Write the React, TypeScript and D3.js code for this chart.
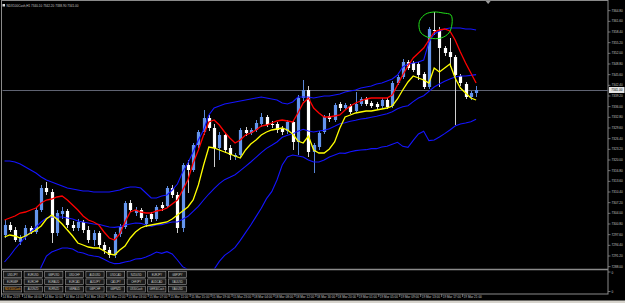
import React from "react";
import * as d3 from "d3";

const symbolName = "NDX100Cash,H1";

const openP = [
  7297.5, 7300.5, 7299.0, 7295.4, 7296.9, 7299.6, 7298.4, 7305.0, 7311.6, 7310.4,
  7298.1, 7303.8, 7304.7, 7300.5, 7299.6, 7301.4, 7299.0, 7296.0, 7298.1, 7294.5,
  7293.0, 7291.5, 7297.8, 7299.9, 7307.1, 7304.1, 7305.0, 7300.8, 7303.8, 7302.3,
  7306.5, 7306.2, 7311.6, 7309.5, 7299.6, 7318.5, 7317.0, 7324.5, 7328.4, 7332.6,
  7329.6, 7323.6, 7327.5, 7323.6, 7320.9, 7321.5, 7329.0, 7328.1, 7329.0, 7330.8,
  7332.9, 7330.8, 7330.8, 7329.3, 7328.7, 7331.4, 7325.4, 7338.6, 7341.0, 7322.4,
  7323.9, 7328.4, 7333.2, 7332.0, 7336.8, 7335.6, 7336.2, 7334.7, 7336.8, 7338.3,
  7337.1, 7336.8, 7336.2, 7338.0, 7336.2, 7343.1, 7344.9, 7349.4, 7349.1, 7348.8,
  7345.8, 7341.9, 7359.0, 7358.7, 7353.6, 7352.4, 7350.9, 7345.2, 7342.8, 7338.9,
  7340.1,
];
const highP = [
  7302.0, 7301.4, 7299.9, 7297.5, 7300.5, 7300.2, 7305.9, 7312.5, 7313.4, 7311.3,
  7305.0, 7305.9, 7305.3, 7301.7, 7302.3, 7302.0, 7300.2, 7299.0, 7298.7, 7295.4,
  7293.9, 7298.4, 7300.8, 7307.7, 7308.0, 7305.9, 7305.6, 7303.5, 7304.4, 7306.5,
  7307.4, 7312.2, 7312.5, 7310.4, 7319.1, 7320.0, 7325.1, 7329.0, 7335.0, 7333.5,
  7330.8, 7328.4, 7328.1, 7324.5, 7322.1, 7329.6, 7329.9, 7329.6, 7332.0, 7334.1,
  7333.5, 7331.7, 7331.4, 7330.2, 7332.0, 7332.0, 7339.5, 7344.0, 7342.2, 7325.1,
  7328.7, 7333.5, 7334.1, 7337.1, 7337.4, 7337.1, 7336.8, 7340.4, 7338.9, 7338.9,
  7337.7, 7337.4, 7338.6, 7338.6, 7343.7, 7345.5, 7350.3, 7350.0, 7349.7, 7349.4,
  7346.4, 7359.9, 7364.4, 7359.9, 7354.2, 7356.6, 7351.5, 7345.8, 7343.4, 7340.7,
  7342.2,
];
const lowP = [
  7296.6, 7298.4, 7295.4, 7294.5, 7296.0, 7297.8, 7297.8, 7304.4, 7309.5, 7295.1,
  7297.2, 7302.3, 7299.6, 7298.7, 7298.7, 7298.1, 7295.1, 7294.2, 7293.6, 7291.8,
  7290.6, 7290.6, 7296.9, 7299.3, 7304.4, 7303.2, 7302.0, 7299.9, 7301.4, 7301.7,
  7304.7, 7305.6, 7308.6, 7298.1, 7298.4, 7310.1, 7316.4, 7323.6, 7327.5, 7328.7,
  7317.9, 7320.0, 7322.1, 7320.0, 7320.0, 7320.6, 7327.2, 7327.5, 7328.4, 7329.9,
  7329.9, 7329.6, 7328.1, 7327.5, 7327.8, 7323.0, 7321.5, 7337.7, 7320.9, 7316.1,
  7323.0, 7327.8, 7331.4, 7331.4, 7334.7, 7335.0, 7333.8, 7334.1, 7336.2, 7336.2,
  7335.6, 7335.3, 7335.6, 7335.3, 7335.6, 7342.5, 7344.3, 7347.0, 7346.4, 7344.0,
  7341.3, 7341.3, 7357.5, 7341.9, 7351.2, 7347.9, 7330.5, 7342.2, 7338.3, 7338.0,
  7338.9,
];
const closeP = [
  7300.5, 7299.0, 7296.0, 7296.9, 7299.6, 7298.4, 7305.0, 7311.6, 7310.4, 7298.1,
  7304.1, 7304.7, 7300.5, 7299.6, 7301.4, 7299.0, 7296.0, 7298.1, 7294.5, 7293.0,
  7291.5, 7297.8, 7299.9, 7307.1, 7305.0, 7305.0, 7302.6, 7302.6, 7302.3, 7305.9,
  7305.6, 7311.6, 7309.5, 7299.6, 7318.5, 7317.0, 7324.5, 7328.4, 7332.6, 7329.6,
  7323.6, 7327.5, 7323.0, 7321.5, 7321.5, 7329.0, 7328.1, 7329.0, 7331.1, 7332.9,
  7330.5, 7330.5, 7329.0, 7328.4, 7331.4, 7325.4, 7338.6, 7341.0, 7322.4, 7324.5,
  7328.1, 7332.9, 7332.3, 7336.5, 7335.6, 7336.5, 7334.4, 7336.8, 7338.3, 7336.8,
  7336.2, 7335.9, 7338.0, 7335.9, 7343.1, 7344.9, 7349.4, 7347.6, 7347.0, 7345.5,
  7341.9, 7359.3, 7358.7, 7353.6, 7352.1, 7350.9, 7345.5, 7343.1, 7338.9, 7340.1,
  7341.0,
];

const bbUpper = [
  7319.7, 7319.7, 7319.4, 7318.8, 7317.9, 7317.0, 7316.1, 7314.9, 7314.0, 7313.4,
  7312.8, 7312.2, 7311.6, 7311.3, 7311.0, 7310.7, 7310.7, 7310.4, 7310.4, 7310.4,
  7310.4, 7310.7, 7311.0, 7311.6, 7311.9, 7311.9, 7311.6, 7310.1, 7308.6, 7308.6,
  7309.2, 7309.5, 7311.0, 7312.8, 7316.4, 7319.1, 7322.4, 7326.0, 7329.0, 7333.5,
  7335.6, 7336.2, 7336.8, 7337.1, 7337.4, 7337.7, 7338.0, 7338.3, 7338.6, 7338.9,
  7338.6, 7338.3, 7338.0, 7337.1, 7336.8, 7337.4, 7338.9, 7338.9, 7338.9, 7338.6,
  7338.9, 7339.2, 7339.2, 7339.5, 7339.8, 7340.4, 7340.7, 7341.0, 7341.6, 7341.9,
  7342.2, 7342.8, 7343.1, 7343.7, 7344.3, 7345.5, 7347.9, 7348.8, 7349.1, 7349.4,
  7350.0, 7355.4, 7357.8, 7358.7, 7359.3, 7359.6, 7359.6, 7359.6, 7359.3, 7359.3,
  7359.0,
];
const bbMiddle = [
  7289.4, 7291.2, 7293.3, 7295.1, 7296.9, 7298.4, 7299.9, 7301.4, 7302.6, 7302.9,
  7302.9, 7302.9, 7302.6, 7302.3, 7301.7, 7301.4, 7301.1, 7300.8, 7300.7, 7300.3,
  7299.9, 7299.8, 7300.0, 7300.5, 7300.8, 7301.1, 7301.0, 7300.5, 7300.1, 7300.5,
  7300.6, 7301.0, 7301.4, 7301.4, 7302.2, 7303.1, 7304.6, 7306.1, 7308.0, 7309.8,
  7311.4, 7312.9, 7314.1, 7314.8, 7315.6, 7316.8, 7318.1, 7319.4, 7320.8, 7322.2,
  7323.5, 7324.4, 7325.4, 7326.8, 7327.4, 7327.9, 7328.6, 7329.2, 7328.7, 7328.4,
  7328.7, 7328.9, 7329.4, 7330.1, 7330.9, 7331.2, 7331.6, 7331.9, 7332.3, 7332.5,
  7332.8, 7333.1, 7333.5, 7333.9, 7334.5, 7335.4, 7336.0, 7336.3, 7337.5, 7338.6,
  7339.3, 7340.6, 7341.9, 7342.8, 7343.6, 7344.3, 7344.9, 7345.2, 7345.2, 7345.4,
  7345.6,
];
const bbLower = [
  7259.1, 7262.7, 7267.2, 7271.4, 7275.9, 7279.8, 7283.7, 7287.9, 7291.2, 7292.4,
  7293.0, 7293.6, 7293.6, 7293.3, 7292.4, 7292.1, 7291.5, 7291.2, 7291.0, 7290.2,
  7289.4, 7288.9, 7289.0, 7289.4, 7289.7, 7290.3, 7290.4, 7290.9, 7291.6, 7292.4,
  7292.0, 7292.5, 7291.8, 7290.0, 7288.0, 7287.1, 7286.8, 7286.2, 7287.0, 7286.1,
  7287.2, 7289.6, 7291.4, 7292.5, 7293.8, 7295.9, 7298.2, 7300.5, 7303.0, 7305.5,
  7308.4, 7310.5, 7314.0, 7318.5, 7320.9, 7321.5, 7321.2, 7320.9, 7320.0, 7319.4,
  7319.4, 7320.0, 7320.9, 7321.5, 7322.1, 7322.0, 7322.5, 7322.8, 7323.0, 7323.1,
  7323.4, 7323.4, 7323.9, 7324.1, 7324.7, 7325.3, 7324.1, 7323.8, 7325.9, 7327.8,
  7328.6, 7325.8, 7326.0, 7326.9, 7327.9, 7329.0, 7330.2, 7330.8, 7331.1, 7331.5,
  7332.2,
];
const redLine = [
  7302.0, 7302.6, 7303.2, 7304.1, 7304.4, 7305.0, 7305.6, 7307.1, 7308.0, 7308.3,
  7308.9, 7309.2, 7308.0, 7306.5, 7305.0, 7303.2, 7302.0, 7301.4, 7300.5, 7298.4,
  7296.6, 7296.0, 7297.8, 7301.4, 7304.4, 7305.0, 7304.4, 7304.1, 7304.1, 7304.7,
  7305.0, 7305.6, 7306.8, 7308.0, 7311.0, 7314.0, 7319.1, 7323.0, 7327.5, 7331.4,
  7332.0, 7330.5, 7328.4, 7326.6, 7325.1, 7326.0, 7327.5, 7328.1, 7329.0, 7330.2,
  7330.5, 7331.1, 7331.7, 7332.0, 7331.7, 7331.4, 7334.1, 7337.1, 7338.6, 7335.6,
  7334.1, 7332.9, 7332.9, 7333.2, 7333.5, 7335.0, 7336.2, 7337.1, 7337.7, 7338.3,
  7338.6, 7338.6, 7338.6, 7338.6, 7339.5, 7342.5, 7345.5, 7348.2, 7350.6, 7352.1,
  7353.6, 7356.0, 7358.4, 7359.0, 7359.3, 7358.7, 7356.0, 7352.4, 7349.1, 7346.1,
  7343.1,
];
const yellowLine = [
  7296.9, 7297.5, 7297.2, 7296.6, 7297.2, 7298.1, 7299.0, 7300.2, 7302.3, 7303.5,
  7302.3, 7300.8, 7299.0, 7297.2, 7295.1, 7294.5, 7293.9, 7293.6, 7293.6, 7292.7,
  7291.8, 7291.5, 7293.0, 7294.2, 7296.6, 7298.4, 7299.6, 7300.2, 7300.5, 7300.8,
  7301.1, 7301.4, 7302.3, 7303.5, 7304.7, 7305.9, 7308.0, 7312.5, 7318.5, 7323.9,
  7323.6, 7323.0, 7322.4, 7321.8, 7321.2, 7320.6, 7323.0, 7324.8, 7326.0, 7327.5,
  7328.4, 7329.0, 7329.3, 7329.6, 7329.0, 7327.8, 7325.7, 7325.1, 7327.2, 7323.0,
  7322.1, 7322.1, 7323.3, 7325.4, 7329.6, 7332.9, 7333.5, 7334.1, 7334.4, 7334.7,
  7334.7, 7335.0, 7335.3, 7335.6, 7336.2, 7338.3, 7341.0, 7343.4, 7345.2, 7344.6,
  7344.0, 7343.1, 7347.6, 7346.4, 7347.6, 7348.8, 7344.6, 7341.6, 7340.1, 7338.6,
  7338.0,
];

const priceTicks = [
  7288.0, 7291.2, 7294.4, 7297.6, 7300.8, 7304.0, 7307.2, 7310.4, 7313.6, 7316.8,
  7320.0, 7323.2, 7326.4, 7329.6, 7332.8, 7336.0, 7339.2, 7342.4, 7345.6, 7348.8,
  7352.0, 7355.2, 7358.4, 7361.6, 7364.8,
];
const timeTickBars = [0, 4, 8, 12, 16, 20, 24, 28, 32, 36, 40, 44, 48, 52, 56, 60, 64, 68, 72, 76, 80, 84, 88];
const timeTickLabels = [
  "14 Mar 2019", "14 Mar 06:00", "14 Mar 10:00", "14 Mar 14:00", "14 Mar 18:00", "14 Mar 22:00",
  "15 Mar 03:00", "15 Mar 07:00", "15 Mar 11:00", "15 Mar 15:00", "15 Mar 19:00", "15 Mar 23:00",
  "18 Mar 04:00", "18 Mar 08:00", "18 Mar 12:00", "18 Mar 16:00", "18 Mar 20:00",
  "19 Mar 01:00", "19 Mar 05:00", "19 Mar 09:00", "19 Mar 13:00", "19 Mar 17:00", "19 Mar 21:00",
];

const buttonRow1 = ["USDJPY", "EURUSD", "GBPUSD", "USDCHF", "AUDUSD", "USDCAD", "NZDUSD", "EURJPY", "GBPJPY"];
const buttonRow2 = ["EURGBP", "EURCHF", "EURAUD", "EURCAD", "AUDJPY", "CADJPY", "CHFJPY", "AUDCAD", "XAUUSD"];
const buttonRow3 = ["NDX100Cash", "AUDNZD", "EURNZD", "GBPAUD", "GBPCHF", "GBPNZD", "US30Cash", "GER30Cash", "XAGUSD"];

// hand-drawn annotation, in (bar index, price)
const markerCircle: [number, number][] = [
  [79.3, 7362.0], [80.4, 7363.8], [82.0, 7364.4], [83.7, 7364.1], [85.2, 7363.5],
  [85.4, 7360.8], [84.8, 7358.1], [83.3, 7356.6], [81.2, 7356.6], [79.5, 7358.1], [79.1, 7360.2],
];
const shiftMarkerBar = 92.3;

const BULL = "#6495ED";
const BEAR = "#FFFFFF";
const AXIS_TXT = "#c4c4c4";
const FRAME = "#8a8a8a";

export default function App() {
  const n = openP.length;
  const x = d3.scaleLinear().domain([0, n - 1]).range([4.5, 476.1]);
  const y = d3.scaleLinear().domain([7287.6, 7367.4]).range([268, 2]);

  const linePath = (arr: number[]) =>
    d3.line<number>().x((_, i) => x(i)).y((d) => y(d))(arr) || "";
  const circlePath =
    d3.line<[number, number]>().x((d) => x(d[0])).y((d) => y(d[1])).curve(d3.curveCatmullRomClosed)(markerCircle) || "";

  const last = n - 1;
  const lastClose = closeP[last];
  const header = `${symbolName}  ${openP[last].toFixed(2)} ${highP[last].toFixed(2)} ${lowP[last].toFixed(2)} ${closeP[last].toFixed(2)}`;
  const font = "'Liberation Sans', Arial, sans-serif";
  const rows = [buttonRow1, buttonRow2, buttonRow3];
  const rowY = [271.6, 278.9, 286.2];
  const sx = x(shiftMarkerBar);
  const fs = 3.1;

  return (
    <div style={{ position: "fixed", left: 0, top: 0, width: 625, height: 303, background: "#000" }}>
      <svg width={625} height={303} style={{ display: "block" }} fontFamily={font}>
        <defs>
          <clipPath id="plotClip">
            <rect x={2.5} y={1.5} width={605} height={267} />
          </clipPath>
        </defs>
        <rect x={0} y={0} width={625} height={303} fill="#000" />

        {/* frame */}
        <rect x={1.5} y={0.5} width={606.5} height={293.5} fill="none" stroke={FRAME} strokeWidth={1} />
        <line x1={1.5} x2={608} y1={269.5} y2={269.5} stroke={FRAME} strokeWidth={1.6} />
        <rect x={0} y={300.5} width={625} height={2.5} fill="#d6d3cc" />

        {/* bid line */}
        <line x1={2.5} x2={608} y1={Math.round(y(lastClose)) + 0.5} y2={Math.round(y(lastClose)) + 0.5} stroke="#5f6372" strokeWidth={1} />

        <g clipPath="url(#plotClip)">
          {/* candles */}
          {d3.range(n).map((i) => {
            const bull = closeP[i] >= openP[i];
            const cx = Math.round(x(i)) + 0.5;
            const top = y(Math.max(openP[i], closeP[i]));
            const bot = y(Math.min(openP[i], closeP[i]));
            return (
              <g key={i}>
                <line x1={cx} x2={cx} y1={y(highP[i])} y2={y(lowP[i])} stroke={bull ? "#5a86d8" : "#cfcfcf"} strokeWidth={1} />
                <rect x={cx - 1.6} y={top} width={3.2} height={Math.max(1, bot - top)} fill={bull ? BULL : BEAR} />
              </g>
            );
          })}
          {/* indicators */}
          <path d={linePath(bbUpper)} fill="none" stroke="#1414ff" strokeWidth={1.1} />
          <path d={linePath(bbMiddle)} fill="none" stroke="#1414ff" strokeWidth={1.1} />
          <path d={linePath(bbLower)} fill="none" stroke="#1414ff" strokeWidth={1.1} />
          <path d={linePath(redLine)} fill="none" stroke="#ff0000" strokeWidth={1.3} />
          <path d={linePath(yellowLine)} fill="none" stroke="#ffff00" strokeWidth={1.3} />
          <path d={circlePath} fill="none" stroke="#22e01a" strokeWidth={1} />
        </g>

        {/* chart shift marker */}
        <path d={`M${sx - 2.5},1 L${sx + 2.5},1 L${sx},4 Z`} fill="#9a9a9a" />

        {/* header */}
        <rect x={2.5} y={4} width={2.5} height={2.5} fill="#dcdcdc" />
        <text x={6.5} y={7} fontSize={fs} fill={AXIS_TXT}>
          {header}
        </text>

        {/* price axis */}
        {priceTicks.map((v) => (
          <g key={v}>
            <line x1={608} x2={610.5} y1={y(v)} y2={y(v)} stroke={FRAME} strokeWidth={0.8} />
            <text x={611.5} y={y(v) + 1.1} fontSize={fs} fill={AXIS_TXT}>
              {v.toFixed(2)}
            </text>
          </g>
        ))}
        <rect x={609} y={y(lastClose) - 3} width={15.5} height={6} fill="#e6e6e6" />
        <text x={611.2} y={y(lastClose) + 1.1} fontSize={fs} fill="#000">
          {lastClose.toFixed(2)}
        </text>
        {/* subwindow scale */}
        <line x1={608} x2={610.5} y1={272} y2={272} stroke={FRAME} strokeWidth={0.8} />
        <text x={611.5} y={273.5} fontSize={fs} fill={AXIS_TXT}>0</text>
        <line x1={608} x2={610.5} y1={291.5} y2={291.5} stroke={FRAME} strokeWidth={0.8} />
        <text x={611.5} y={292.8} fontSize={fs} fill={AXIS_TXT}>0</text>

        {/* time axis */}
        {timeTickBars.map((b, k) => {
          const tx = x(b) - 3;
          const lbl = timeTickLabels[k];
          return (
            <g key={b}>
              <line x1={tx} x2={tx} y1={294} y2={297} stroke={FRAME} strokeWidth={0.8} />
              <text x={tx + 1} y={298.4} fontSize={fs} fill={AXIS_TXT}>
                {lbl}
              </text>
            </g>
          );
        })}

        {/* symbol buttons */}
        {rows.map((row, r) =>
          row.map((name, c) => {
            const bx = 3.5 + c * 20.6;
            const by = rowY[r];
            return (
              <g key={`${r}-${c}`}>
                <rect x={bx} y={by} width={18.2} height={5.8} fill="#1b1b1b" stroke="#9c9c9c" strokeWidth={0.6} />
                <text x={bx + 9.1} y={by + 3.9} fontSize={2.6} textAnchor="middle" fill={r === 2 && c === 0 ? "#e8a020" : "#d0d0d0"}>
                  {name}
                </text>
              </g>
            );
          })
        )}
      </svg>
    </div>
  );
}
